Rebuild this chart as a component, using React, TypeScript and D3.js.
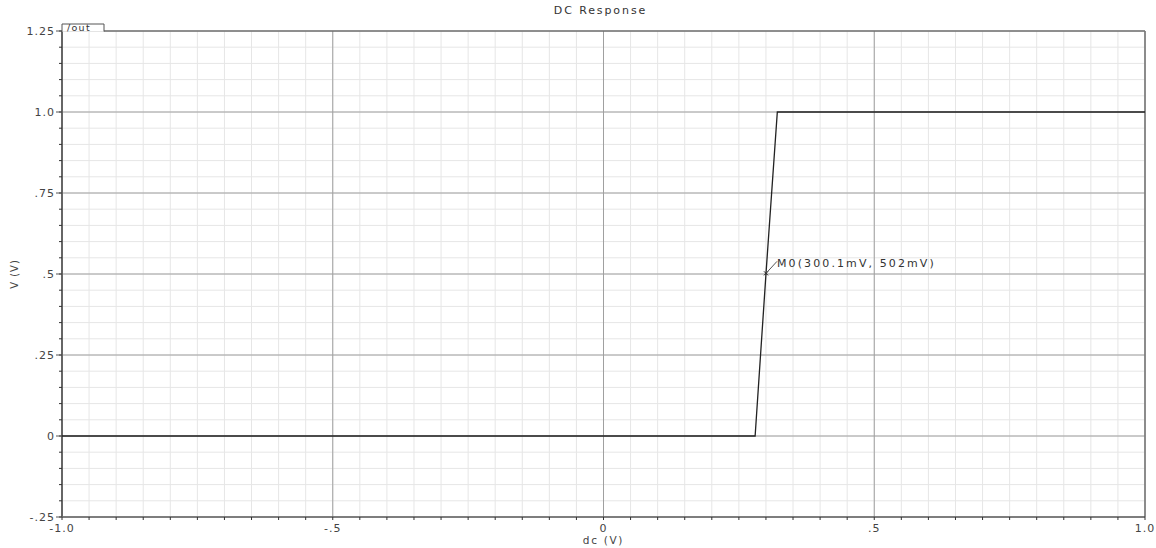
import * as d3 from "d3";
import React from "react";

// DC sweep of /out (dc source in V -> output in V)
const dcSweep = [-1.0, 0.28, 0.3001, 0.321, 1.0];
const vOut = [0, 0, 0.502, 1.0, 1.0];

const xTicks = [-1.0, -0.5, 0, 0.5, 1.0];
const xTickLabels = ["-1.0", "-.5", "0", ".5", "1.0"];
const yTicks = [-0.25, 0, 0.25, 0.5, 0.75, 1.0, 1.25];
const yTickLabels = ["-.25", "0", ".25", ".5", ".75", "1.0", "1.25"];

const marker = { name: "M0", x: 0.3001, y: 0.502, label: "M0(300.1mV, 502mV)" };

export default function App() {
  const svgWidth = 1156;
  const svgHeight = 548;
  const margin = { top: 31, right: 11, bottom: 31, left: 62 };
  const w = svgWidth - margin.left - margin.right;
  const h = svgHeight - margin.top - margin.bottom;

  const x = d3.scaleLinear().domain([-1, 1]).range([0, w]);
  const y = d3.scaleLinear().domain([-0.25, 1.25]).range([h, 0]);

  const xMinor = d3.range(-1, 1.0001, 0.05);
  const yMinor = d3.range(-0.25, 1.2501, 0.05);

  const pts = dcSweep.map((d, i) => [d, vOut[i]] as [number, number]);
  const line = d3.line<[number, number]>()
    .x((d) => x(d[0]))
    .y((d) => y(d[1]));

  const font = "DejaVu Sans, Verdana, sans-serif";
  const mx = x(marker.x);
  const my = y(marker.y);
  const tabW = 42;

  return (
    <svg width={svgWidth} height={svgHeight} style={{ position: "absolute", left: 0, top: 0, background: "#fff" }} fontFamily={font}>
      <text x={margin.left + w / 2 - 3} y={14} textAnchor="middle" fontSize={11} letterSpacing={1.9} fill="#333">DC Response</text>
      <g transform={`translate(${margin.left},${margin.top})`}>
        {xMinor.map((v, i) => (
          <line key={"xm" + i} x1={x(v)} x2={x(v)} y1={0} y2={h} stroke="#e6e6e6" strokeWidth={1} />
        ))}
        {yMinor.map((v, i) => (
          <line key={"ym" + i} x1={0} x2={w} y1={y(v)} y2={y(v)} stroke="#e6e6e6" strokeWidth={1} />
        ))}
        {xTicks.map((v, i) => (
          <line key={"xg" + i} x1={x(v)} x2={x(v)} y1={0} y2={h} stroke="#a0a0a0" strokeWidth={1} />
        ))}
        {yTicks.map((v, i) => (
          <line key={"yg" + i} x1={0} x2={w} y1={y(v)} y2={y(v)} stroke="#a0a0a0" strokeWidth={1} />
        ))}
        {/* frame */}
        <line x1={tabW} x2={w} y1={0} y2={0} stroke="#555" strokeWidth={1} />
        <line x1={w} x2={w} y1={0} y2={h} stroke="#777" strokeWidth={1.5} />
        <line x1={0} x2={w} y1={h} y2={h} stroke="#333" strokeWidth={1} />
        <line x1={0} x2={0} y1={0} y2={h} stroke="#666" strokeWidth={2} />
        {/* minor ticks */}
        {xMinor.map((v, i) => (
          <line key={"xt" + i} x1={x(v)} x2={x(v)} y1={h} y2={h + 3} stroke="#333" />
        ))}
        {yMinor.map((v, i) => (
          <line key={"yt" + i} x1={-3} x2={0} y1={y(v)} y2={y(v)} stroke="#333" />
        ))}
        {yTicks.map((v, i) => (
          <line key={"ytm" + i} x1={-6} x2={0} y1={y(v)} y2={y(v)} stroke="#555" />
        ))}
        {/* labels */}
        {yTicks.map((v, i) => (
          <text key={"yl" + i} x={-7} y={y(v)} dy="0.35em" textAnchor="end" fontSize={11} letterSpacing={1} fill="#444">{yTickLabels[i]}</text>
        ))}
        {xTicks.map((v, i) => (
          <text key={"xl" + i} x={x(v)} y={h + 15} textAnchor="middle" fontSize={11} letterSpacing={1} fill="#444">{xTickLabels[i]}</text>
        ))}
        <text x={x(0)} y={h + 27} textAnchor="middle" fontSize={10.5} letterSpacing={1.7} fill="#444">dc (V)</text>
        <text transform={`translate(${-44},${y(0.5)}) rotate(-90)`} textAnchor="middle" fontSize={10} letterSpacing={1} fill="#444">V (V)</text>
        {/* trace */}
        <path d={line(pts) || ""} fill="none" stroke="#222" strokeWidth={1.3} />
        {/* marker */}
        <line x1={mx - 2} x2={mx + 2} y1={my - 2} y2={my + 2} stroke="#222" />
        <line x1={mx - 2} x2={mx + 2} y1={my + 2} y2={my - 2} stroke="#222" />
        <line x1={mx} x2={mx + 11} y1={my} y2={my - 12} stroke="#555" />
        <text x={mx + 11} y={my - 6} fontSize={11} letterSpacing={2.1} fill="#333">{marker.label}</text>
        {/* legend tab */}
        <path d={`M0,0.5 V-7 H${tabW} V0.5`} fill="#fff" stroke="#555" strokeWidth={1} />
        <text x={5} y={-0.5} fontSize={9.5} letterSpacing={1.3} fill="#333">/out</text>
      </g>
    </svg>
  );
}
